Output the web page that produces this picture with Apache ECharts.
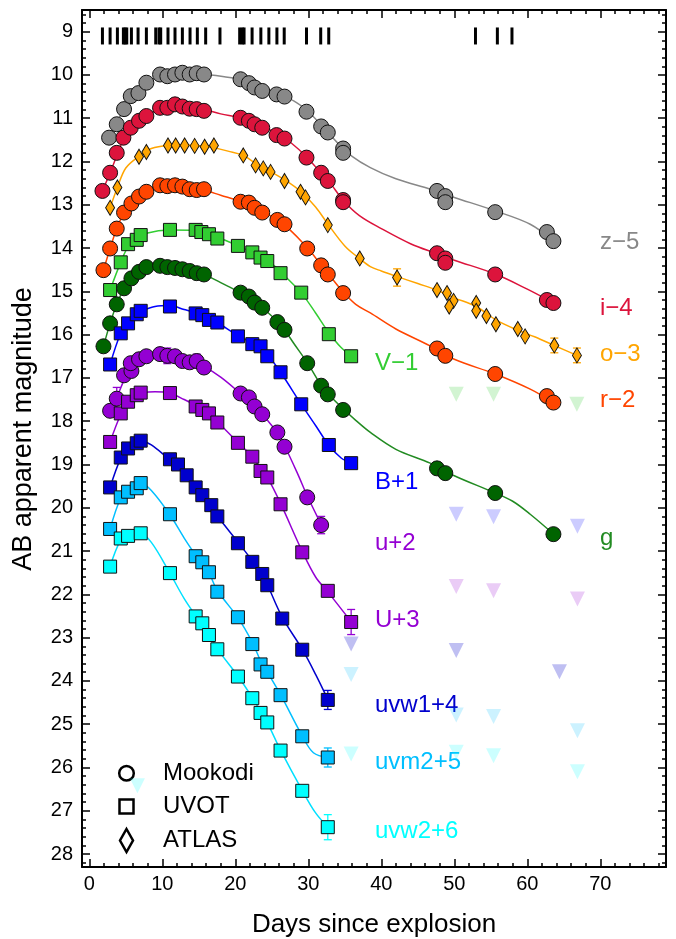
<!DOCTYPE html>
<html>
<head>
<meta charset="utf-8">
<script src="https://cdn.jsdelivr.net/npm/echarts@6/dist/echarts.min.js"></script>
<style>html,body{margin:0;padding:0;background:#fff}#chart{width:676px;height:939px}</style>
</head>
<body>
<div id="chart"></div>
<script>
// ---------------- DATA ----------------
const xTickLabels = [0, 10, 20, 30, 40, 50, 60, 70];
const yTickLabels = [9,10,11,12,13,14,15,16,17,18,19,20,21,22,23,24,25,26,27,28];

const spectraDays = [1.8, 2.85, 3.85, 4.67, 4.9, 5.13, 5.77, 6.68, 7.82, 9.1, 9.55, 9.78, 10.78, 11.74, 12.75, 13.8, 14.8, 15.94, 17.9,
  20.6, 20.96, 21.2, 22.3, 23.5, 24.6, 25.7, 26.7, 29.75, 31.7, 32.8, 52.9, 55.9, 57.9];
const spectraMag = 9.1;

// z-5 (Mookodi)
const zObs = [[2.71,11.45],[3.76,11.14],[4.76,10.79],[5.68,10.49],[6.73,10.42],[7.82,10.18],[9.69,9.99],[10.69,10.03],[11.74,9.99],[12.75,9.95],
  [13.75,9.99],[14.71,9.96],[15.71,9.99],[20.72,10.10],[21.86,10.19],[22.64,10.29],[23.69,10.37],[25.65,10.45],[26.74,10.50],[29.75,10.85],
  [31.76,11.19],[32.67,11.33],[34.77,11.70],[34.77,11.80],[47.63,12.68],[48.77,12.80],[48.77,12.94],[55.6,13.17],[62.68,13.63],[63.58,13.84]];
const zCurve = [[2.7,11.45],[4,11.02],[5.5,10.6],[7,10.3],[9,10.07],[11,9.98],[13.5,9.96],[16,9.99],[18.5,10.04],[20.7,10.11],[23,10.28],
  [25.5,10.44],[28,10.6],[30,10.85],[32,11.2],[34,11.57],[36,11.88],[38.5,12.14],[42,12.4],[46.7,12.64],[50,12.83],[55.6,13.14],[60.4,13.45],[63.6,13.84]];

// i-4 (Mookodi)
const iObs = [[1.80,12.68],[2.85,12.26],[3.76,11.80],[4.67,11.45],[5.68,11.22],[6.81,11.06],[7.82,10.95],[9.69,10.76],[10.69,10.76],[11.74,10.68],
  [12.75,10.73],[13.75,10.78],[14.71,10.79],[15.71,10.83],[20.72,10.99],[21.86,11.06],[22.64,11.14],[23.69,11.22],[25.65,11.39],[26.74,11.47],
  [29.75,11.91],[31.76,12.26],[32.67,12.45],[34.77,12.89],[34.77,12.94],[47.63,14.12],[48.77,14.24],[48.77,14.34],[55.6,14.61],[62.68,15.20],[63.58,15.27]];
const iCurve = [[1.8,12.68],[2.85,12.26],[3.8,11.85],[4.7,11.48],[5.7,11.22],[6.8,11.06],[7.8,10.95],[9.7,10.78],[11.7,10.72],[13.7,10.75],[15.7,10.8],
  [18,10.9],[20.7,10.99],[23,11.13],[25.7,11.35],[27.5,11.55],[29.8,11.9],[31.8,12.28],[33,12.5],[34.8,12.9],[37,13.25],[40,13.55],[44,13.9],
  [47.6,14.13],[50,14.28],[55.6,14.6],[60,14.95],[63.6,15.27]];

// o-3 (ATLAS)
const oObs = [[2.85,13.07],[3.85,12.60],[6.81,11.89],[7.82,11.78],[10.78,11.63],[11.83,11.63],[13.06,11.63],[14.43,11.64],[15.80,11.66],[17.07,11.63],
  [21.09,11.86],[22.78,12.09],[23.83,12.16],[24.83,12.24],[26.74,12.45],[28.93,12.70],[29.62,12.83],[32.67,13.47],[37.05,14.24],[42.16,14.68],
  [47.63,14.97],[49.0,15.04],[49.9,15.22],[49.3,15.35],[53.0,15.27],[53.0,15.45],[54.4,15.57],[55.7,15.76],[58.7,15.87],[59.7,16.04],[63.7,16.25],[66.8,16.48]];
const oCurve = [[2.85,13.07],[3.85,12.6],[5,12.15],[6.8,11.88],[8.5,11.7],[10.8,11.63],[13,11.62],[15.8,11.65],[17,11.68],[19,11.76],[21.1,11.86],
  [23,12.07],[25,12.25],[27,12.45],[29,12.7],[31,13.05],[32.7,13.45],[35,13.95],[37,14.24],[38.5,14.43],[40,14.53],[42.2,14.66],[45,14.82],
  [47.6,14.97],[50,15.15],[53,15.35],[55.7,15.66],[58.7,15.9],[61,16.05],[63.7,16.25],[66.8,16.48]];

// r-2 (Mookodi)
const rObs = [[1.94,14.51],[2.85,14.01],[3.76,13.55],[4.76,13.18],[5.77,12.97],[6.81,12.81],[7.82,12.70],[9.69,12.55],[10.69,12.57],[11.74,12.55],
  [12.75,12.58],[13.75,12.64],[14.71,12.66],[15.71,12.64],[20.72,12.93],[21.86,12.95],[22.64,13.07],[23.69,13.18],[25.76,13.35],[26.74,13.45],
  [29.85,14.01],[31.76,14.40],[32.67,14.61],[34.77,15.04],[47.63,16.32],[48.77,16.49],[55.6,16.91],[62.68,17.42],[63.58,17.57]];
const rCurve = [[1.94,14.51],[2.85,14.01],[3.76,13.55],[4.76,13.18],[5.8,12.95],[6.8,12.8],[7.8,12.7],[9.7,12.56],[11.7,12.55],[13.7,12.6],[15.7,12.66],
  [18,12.78],[20.7,12.92],[22.6,13.05],[24,13.18],[25.8,13.35],[27,13.5],[29.9,14.0],[31.8,14.4],[33,14.65],[34.8,15.02],[36.5,15.3],[38.5,15.5],
  [42,15.87],[46.7,16.26],[50,16.57],[55.6,16.91],[60.4,17.26],[63.6,17.57]];

// V-1 (UVOT)
const vObs = [[2.85,14.97],[4.31,14.33],[5.31,13.91],[6.5,13.81],[7.04,13.70],[11.05,13.58],[14.57,13.58],[15.35,13.63],[16.39,13.68],[17.54,13.78],
  [20.36,13.95],[22.33,14.10],[23.46,14.22],[24.38,14.30],[26.2,14.58],[29.03,15.03],[32.81,15.99],[35.87,16.50]];
const vCurve = [[2.85,14.97],[4.3,14.33],[5.3,13.98],[6.5,13.8],[8,13.65],[11,13.58],[14.6,13.59],[16.4,13.66],[17.5,13.74],[20.4,13.95],[22.3,14.1],
  [24.4,14.28],[26.2,14.55],[29,15.03],[31,15.5],[32.8,15.95],[34.5,16.3],[35.9,16.5]];
const vLimits = [[50.27,17.38],[55.38,17.38],[66.79,17.61]];

// g (Mookodi)
const gObs = [[1.94,16.27],[2.85,15.74],[3.76,15.30],[4.76,14.93],[5.77,14.70],[6.81,14.55],[7.82,14.44],[9.69,14.41],[10.69,14.44],[11.74,14.46],
  [12.75,14.49],[13.75,14.53],[14.71,14.58],[15.71,14.61],[20.72,15.03],[21.86,15.12],[22.64,15.26],[23.69,15.38],[25.76,15.71],[26.74,15.89],
  [29.85,16.66],[31.76,17.18],[32.67,17.38],[34.77,17.74],[47.63,19.09],[48.77,19.20],[55.6,19.66],[63.58,20.61]];
const gCurve = [[1.94,16.27],[2.85,15.74],[3.76,15.3],[4.76,14.93],[5.8,14.7],[6.8,14.55],[7.8,14.45],[9.7,14.41],[11.7,14.46],[13.7,14.53],[15.7,14.61],
  [18,14.8],[20.7,15.03],[22.6,15.24],[23.7,15.38],[25.8,15.7],[26.7,15.88],[28,16.2],[29.9,16.66],[31.8,17.18],[33,17.42],[34.8,17.72],[36.5,17.98],
  [38.5,18.26],[42,18.65],[46.7,18.97],[50,19.26],[55.6,19.66],[58,19.85],[60.4,20.15],[63.6,20.61]];

// B+1 (UVOT)
const bObs = [[2.85,16.69],[4.31,15.97],[5.31,15.74],[6.5,15.53],[7.04,15.45],[11.05,15.35],[14.57,15.51],[15.48,15.55],[16.39,15.66],[17.54,15.72],
  [20.36,16.04],[22.33,16.22],[23.46,16.27],[24.38,16.50],[26.2,16.87],[29.03,17.61],[32.81,18.55],[35.87,18.97]];
const bCurve = [[2.85,16.69],[4.3,15.97],[5.3,15.72],[6.5,15.52],[7.5,15.43],[9,15.35],[11,15.33],[13,15.42],[14.6,15.5],[16.4,15.63],[17.5,15.72],
  [20.4,16.03],[22.3,16.2],[24.4,16.47],[26.2,16.87],[29,17.6],[31,18.1],[32.8,18.55],[34.5,18.85],[35.9,18.97]];
const bLimits = [[50.27,20.15],[55.38,20.21],[66.87,20.43]];

// u+2 (Mookodi)
const uObs = [[2.85,17.76],[3.76,17.48],[4.76,16.94],[5.77,16.84],[5.68,16.66],[6.81,16.57],[7.82,16.50],[9.69,16.45],[10.69,16.49],[11.74,16.50],
  [12.75,16.61],[13.75,16.64],[14.71,16.61],[15.71,16.76],[20.72,17.36],[21.86,17.45],[22.64,17.66],[23.69,17.84],[25.76,18.26],[26.74,18.59],
  [29.85,19.76],[31.76,20.40]];
const uCurve = [[2.85,17.76],[3.76,17.45],[4.76,17.05],[5.7,16.75],[6.8,16.57],[7.8,16.5],[9.7,16.46],[11.7,16.5],[13.7,16.6],[15.7,16.74],[18,16.98],
  [20.7,17.36],[22.6,17.65],[23.7,17.84],[25.8,18.28],[26.7,18.55],[28.5,19.2],[29.9,19.74],[31.8,20.4]];

// U+3 (UVOT)
const UObs = [[2.85,18.48],[4.31,17.82],[5.31,17.55],[6.5,17.40],[7.04,17.34],[11.05,17.35],[14.57,17.66],[15.48,17.74],[16.39,17.82],[17.54,18.03],
  [20.36,18.50],[22.33,18.82],[23.46,19.15],[24.38,19.30],[26.2,19.92],[29.17,21.03],[32.67,21.92],[35.87,22.64]];
const UCurve = [[2.85,18.48],[4.3,17.85],[5.3,17.6],[6.5,17.42],[7.5,17.34],[9,17.32],[11,17.35],[13,17.5],[14.6,17.64],[16.4,17.82],[17.5,18.0],
  [20.4,18.5],[22.3,18.82],[23.5,19.1],[24.4,19.3],[26.2,19.9],[29.2,21.02],[31,21.6],[32.7,21.95],[35.9,22.64]];
const ULimits = [[50.27,21.82],[55.38,21.92],[66.87,22.11]];

// uvw1+4 (UVOT)
const w1Obs = [[2.85,19.53],[4.31,18.84],[5.31,18.63],[6.5,18.51],[7.04,18.45],[11.05,18.88],[12.15,19.00],[13.34,19.25],[14.57,19.53],[15.48,19.71],
  [16.71,19.94],[17.54,20.20],[20.36,20.82],[22.33,21.25],[23.69,21.53],[24.38,21.79],[26.43,22.56],[29.17,23.28],[32.67,24.44]];
const w1Curve = [[2.85,19.53],[4.3,18.86],[5.3,18.63],[6.5,18.5],[7.5,18.48],[8.5,18.55],[11,18.88],[12.2,19.02],[13.3,19.22],[14.6,19.52],[15.5,19.7],
  [16.7,19.95],[17.5,20.18],[20.4,20.8],[22.3,21.22],[23.7,21.55],[24.4,21.78],[26.4,22.52],[29.2,23.28],[31,23.85],[32.7,24.44]];
const w1Limits = [[35.87,23.15],[50.27,23.30],[64.4,23.79]];

// uvm2+5 (UVOT)
const m2Obs = [[2.85,20.49],[4.31,19.76],[5.31,19.63],[6.5,19.55],[7.04,19.43],[11.05,20.15],[14.57,21.12],[15.48,21.26],[16.39,21.49],[17.54,21.94],
  [20.36,22.53],[22.33,23.15],[23.46,23.62],[24.38,23.79],[26.2,24.33],[29.17,25.28],[32.67,25.77]];
const m2Curve = [[2.85,20.49],[4.3,19.78],[5.3,19.62],[6.5,19.53],[7.2,19.45],[8.5,19.6],[11,20.15],[13,20.7],[14.6,21.1],[15.5,21.28],[16.4,21.5],
  [17.5,21.9],[20.4,22.55],[22.3,23.1],[23.5,23.55],[24.4,23.8],[26.2,24.32],[29.2,25.28],[30.7,25.66],[32.7,25.77]];
const m2Limits = [[35.87,23.85],[50.27,24.79],[55.38,24.82],[66.87,25.15]];

// uvw2+6 (UVOT)
const w2Obs = [[2.85,21.36],[4.31,20.71],[5.31,20.65],[7.04,20.59],[11.05,21.51],[14.57,22.51],[15.48,22.67],[16.39,22.94],[17.54,23.27],
  [20.36,23.90],[22.33,24.40],[23.46,24.74],[24.38,24.96],[26.2,25.61],[29.17,26.54],[32.67,27.38]];
const w2Curve = [[2.85,21.36],[4.3,20.75],[5.3,20.66],[7,20.6],[8.5,20.8],[11,21.5],[13,22.1],[14.6,22.5],[16.4,22.92],[17.5,23.25],[20.4,23.9],
  [22.3,24.38],[23.5,24.72],[24.4,24.97],[26.2,25.6],[29.2,26.54],[31,27.05],[32.7,27.38]];
const w2Limits = [[6.59,26.42],[35.87,25.69],[50.27,25.65],[55.38,25.73],[66.87,26.10]];

// error bars [day, mag, err]
const oErr = [[42.16,14.68,0.2],[63.7,16.25,0.17],[66.8,16.48,0.17]];
const uErr = [[3.76,17.48,0.26],[10.69,16.49,0.18],[14.71,16.61,0.16],[31.76,20.40,0.2]];
const UErr = [[35.87,22.64,0.29]];
const w1Err = [[32.67,24.44,0.22]];
const m2Err = [[32.67,25.77,0.22]];
const w2Err = [[32.67,27.38,0.29]];

const bandLabels = ['z−5','i−4','o−3','r−2','V−1','g','B+1','u+2','U+3','uvw1+4','uvm2+5','uvw2+6'];
const legendLabels = ['Mookodi','UVOT','ATLAS'];

// ---------------- STYLE / LAYOUT ----------------
const FONT = '"Liberation Sans", Arial, Helvetica, sans-serif';
const COL = {
  z:'#888888', i:'#dc143c', o:'#ffa500', r:'#ff4500', V:'#32cd32', g:'#006400', gLine:'#228b22',
  B:'#0000ff', u:'#9400d3', U:'#9400d3', w1:'#0000cd', m2:'#00bfff', w2:'#00ffff'
};
const CIRC = {symbol:'circle', size:15};
const SQ = {symbol:'rect', size:13};
const DIA = {symbol:'diamond', size:[9,15]};

const bands = [
  {obs:zObs, curve:zCurve, color:COL.z, line:COL.z, m:CIRC},
  {obs:iObs, curve:iCurve, color:COL.i, line:COL.i, m:CIRC},
  {obs:oObs, curve:oCurve, color:COL.o, line:COL.o, m:DIA, err:oErr},
  {obs:rObs, curve:rCurve, color:COL.r, line:COL.r, m:CIRC},
  {obs:vObs, curve:vCurve, color:COL.V, line:COL.V, m:SQ, lim:vLimits, limColor:'rgba(50,205,50,0.22)'},
  {obs:gObs, curve:gCurve, color:COL.g, line:COL.gLine, m:CIRC},
  {obs:bObs, curve:bCurve, color:COL.B, line:COL.B, m:SQ, lim:bLimits, limColor:'rgba(0,0,255,0.2)'},
  {obs:uObs, curve:uCurve, color:COL.u, line:COL.u, m:CIRC, err:uErr},
  {obs:UObs, curve:UCurve, color:COL.U, line:COL.U, m:SQ, lim:ULimits, limColor:'rgba(148,0,211,0.2)', err:UErr},
  {obs:w1Obs, curve:w1Curve, color:COL.w1, line:COL.w1, m:SQ, lim:w1Limits, limColor:'rgba(0,0,205,0.25)', err:w1Err},
  {obs:m2Obs, curve:m2Curve, color:COL.m2, line:COL.m2, m:SQ, lim:m2Limits, limColor:'rgba(0,191,255,0.2)', err:m2Err},
  {obs:w2Obs, curve:w2Curve, color:COL.w2, line:'#00e0ff', m:SQ, lim:w2Limits, limColor:'rgba(0,255,255,0.2)', err:w2Err}
];

// label placement (pixels) and colours
const labelPos = [
  {x:600, y:242, c:COL.z}, {x:600, y:308, c:COL.i}, {x:600, y:354, c:COL.o}, {x:600, y:400, c:COL.r},
  {x:375, y:363, c:COL.V}, {x:600, y:538, c:COL.gLine}, {x:375, y:482, c:COL.B}, {x:375, y:543, c:COL.u},
  {x:375, y:620, c:COL.U}, {x:375, y:705, c:COL.w1}, {x:375, y:762, c:COL.m2}, {x:375, y:831, c:COL.w2}
];

const majorX = xTickLabels;
const minorX = []; for (let v = 2; v <= 78; v += 2) if (v % 10 !== 0) minorX.push(v);
const majorY = yTickLabels;
const minorY = []; for (let k = 43; k <= 141; k++) if (k % 5 !== 0) minorY.push(Math.round(k * 0.2 * 10) / 10);

function xAx(pos, major, showLabel) {
  return {
    type:'value', min:-1, max:79, position:pos, gridIndex:0,
    axisLine:{show:major, onZero:false, lineStyle:{color:'#000', width:2}},
    axisTick:{show:true, inside:true, length: major ? 8 : 4, lineStyle:{color:'#000', width:1.5}, customValues: major ? majorX : minorX},
    axisLabel:{show:showLabel, customValues: majorX, fontSize:20, color:'#000', fontFamily:FONT, margin:7},
    splitLine:{show:false}
  };
}
function yAx(pos, major, showLabel) {
  return {
    type:'value', min:8.5, max:28.3, inverse:true, position:pos, gridIndex:0,
    axisLine:{show:major, onZero:false, lineStyle:{color:'#000', width:2}},
    axisTick:{show:true, inside:true, length: major ? 8 : 4, lineStyle:{color:'#000', width:1.5}, customValues: major ? majorY : minorY},
    axisLabel:{show:showLabel, customValues: majorY, fontSize:20, color:'#000', fontFamily:FONT, margin:9},
    splitLine:{show:false}
  };
}

function errSeries(data, color) {
  return {
    type:'custom', data:data, z:2, silent:true,
    renderItem:function(params, api){
      const x = api.value(0), y = api.value(1), e = api.value(2);
      const t = api.coord([x, y - e]), b = api.coord([x, y + e]);
      const w = 4, st = {stroke:color, lineWidth:1.3};
      return {type:'group', children:[
        {type:'line', shape:{x1:t[0], y1:t[1], x2:b[0], y2:b[1]}, style:st},
        {type:'line', shape:{x1:t[0]-w, y1:t[1], x2:t[0]+w, y2:t[1]}, style:st},
        {type:'line', shape:{x1:b[0]-w, y1:b[1], x2:b[0]+w, y2:b[1]}, style:st}
      ]};
    }
  };
}

const series = [];
series.push({
  type:'scatter', data: spectraDays.map(d => [d, spectraMag]), symbol:'rect', symbolSize:[3,17],
  itemStyle:{color:'#000', opacity:1}, z:3, silent:true
});
bands.forEach(b => {
  if (b.lim) series.push({type:'scatter', data:b.lim, symbol:'triangle', symbolRotate:180, symbolSize:15,
    itemStyle:{color:b.limColor, opacity:1}, z:1, silent:true});
  series.push({type:'line', data:b.curve, smooth:0.35, showSymbol:false, lineStyle:{color:b.line, width:1.5}, z:2, silent:true});
  if (b.err) series.push(errSeries(b.err, b.color));
  series.push({type:'scatter', data:b.obs, symbol:b.m.symbol, symbolSize:b.m.size,
    itemStyle:{color:b.color, borderColor:'#111', borderWidth:1, opacity:1}, z:3, silent:true});
});

const graphics = [];
bandLabels.forEach((t, k) => {
  graphics.push({type:'text', x:labelPos[k].x, y:labelPos[k].y,
    style:{text:t, fill:labelPos[k].c, font:'24px ' + FONT, textAlign:'left', textVerticalAlign:'middle'}});
});
// legend
graphics.push({type:'circle', shape:{cx:126.5, cy:773.3, r:7.3}, style:{fill:'#fff', stroke:'#000', lineWidth:2.5}});
graphics.push({type:'rect', shape:{x:119.5, y:799.5, width:14, height:14}, style:{fill:'#fff', stroke:'#000', lineWidth:2.5}});
graphics.push({type:'polygon', shape:{points:[[126.5,829],[133,840.5],[126.5,852],[120,840.5]]}, style:{fill:'#fff', stroke:'#000', lineWidth:2.5}});
legendLabels.forEach((t, k) => {
  graphics.push({type:'text', x:163, y:[773.3, 806.7, 840.5][k],
    style:{text:t, fill:'#000', font:'24px ' + FONT, textAlign:'left', textVerticalAlign:'middle'}});
});
// axis titles
graphics.push({type:'text', x:374, y:925, style:{text:'Days since explosion', fill:'#000', font:'26px ' + FONT, textAlign:'center', textVerticalAlign:'middle'}});
graphics.push({type:'text', x:24, y:429, rotation:Math.PI/2, style:{text:'AB apparent magnitude', fill:'#000', font:'27px ' + FONT, textAlign:'center', textVerticalAlign:'middle'}});

const chart = echarts.init(document.getElementById('chart'), null, {renderer:'canvas'});
chart.setOption({
  animation:false,
  backgroundColor:'#fff',
  textStyle:{fontFamily:FONT},
  grid:{left:82, right:10, top:10, bottom:72, containLabel:false},
  xAxis:[xAx('bottom', true, true), xAx('bottom', false, false), xAx('top', true, false), xAx('top', false, false)],
  yAxis:[yAx('left', true, true), yAx('left', false, false), yAx('right', true, false), yAx('right', false, false)],
  series: series,
  graphic: graphics
});
</script>
</body>
</html>
